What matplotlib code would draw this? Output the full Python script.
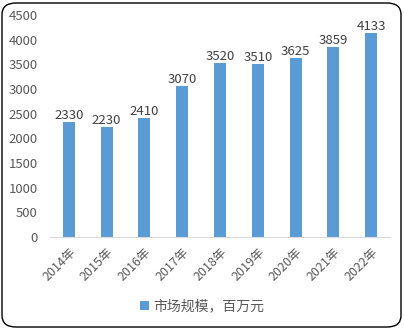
import matplotlib.pyplot as plt
from matplotlib.patches import FancyBboxPatch

years = ["2014年", "2015年", "2016年", "2017年", "2018年", "2019年", "2020年", "2021年", "2022年"]
values = [2330, 2230, 2410, 3070, 3520, 3510, 3625, 3859, 4133]
series_name = "市场规模，百万元"

plt.rcParams['font.family'] = ['Noto Sans CJK SC', 'DejaVu Sans']

fig = plt.figure(figsize=(4.04, 3.29), dpi=100)
ax = fig.add_axes([50 / 404, 1 - 237 / 329, 340 / 404, 222 / 329])

bars = ax.bar(range(len(years)), values, width=0.32, color='#5B9BD5', label=series_name)
for b, v in zip(bars, values):
    ax.annotate(str(v), (b.get_x() + b.get_width() / 2, v), xytext=(0, 0),
                textcoords='offset points', ha='center', va='bottom',
                fontsize=9.5, color='#404040')

ax.set_xlim(-0.5, 8.5)
ax.set_ylim(0, 4500)
ax.set_yticks(range(0, 4501, 500))
ax.set_xticks(range(len(years)))
ax.set_xticklabels(years, rotation=45, ha='right', rotation_mode='anchor')
ax.tick_params(axis='y', length=0, pad=9, labelsize=9.5, labelcolor='#595959')
ax.tick_params(axis='x', length=0, pad=6, labelsize=9, labelcolor='#595959')
for s in ['top', 'right', 'left']:
    ax.spines[s].set_visible(False)
ax.spines['bottom'].set_color('#D9D9D9')

fig.legend(loc='center', bbox_to_anchor=(0.5, 1 - 306 / 329), frameon=False,
           fontsize=10, labelcolor='#595959', handlelength=0.6, handleheight=0.6,
           handletextpad=0.3)

frame = FancyBboxPatch((2 / 404, 2 / 329), 399 / 404, 324 / 329,
                       boxstyle='round,pad=0,rounding_size=0.035',
                       transform=fig.transFigure, fill=False,
                       edgecolor='#000000', linewidth=1.0)
fig.patches.append(frame)

fig.savefig("out.png", dpi=100)
